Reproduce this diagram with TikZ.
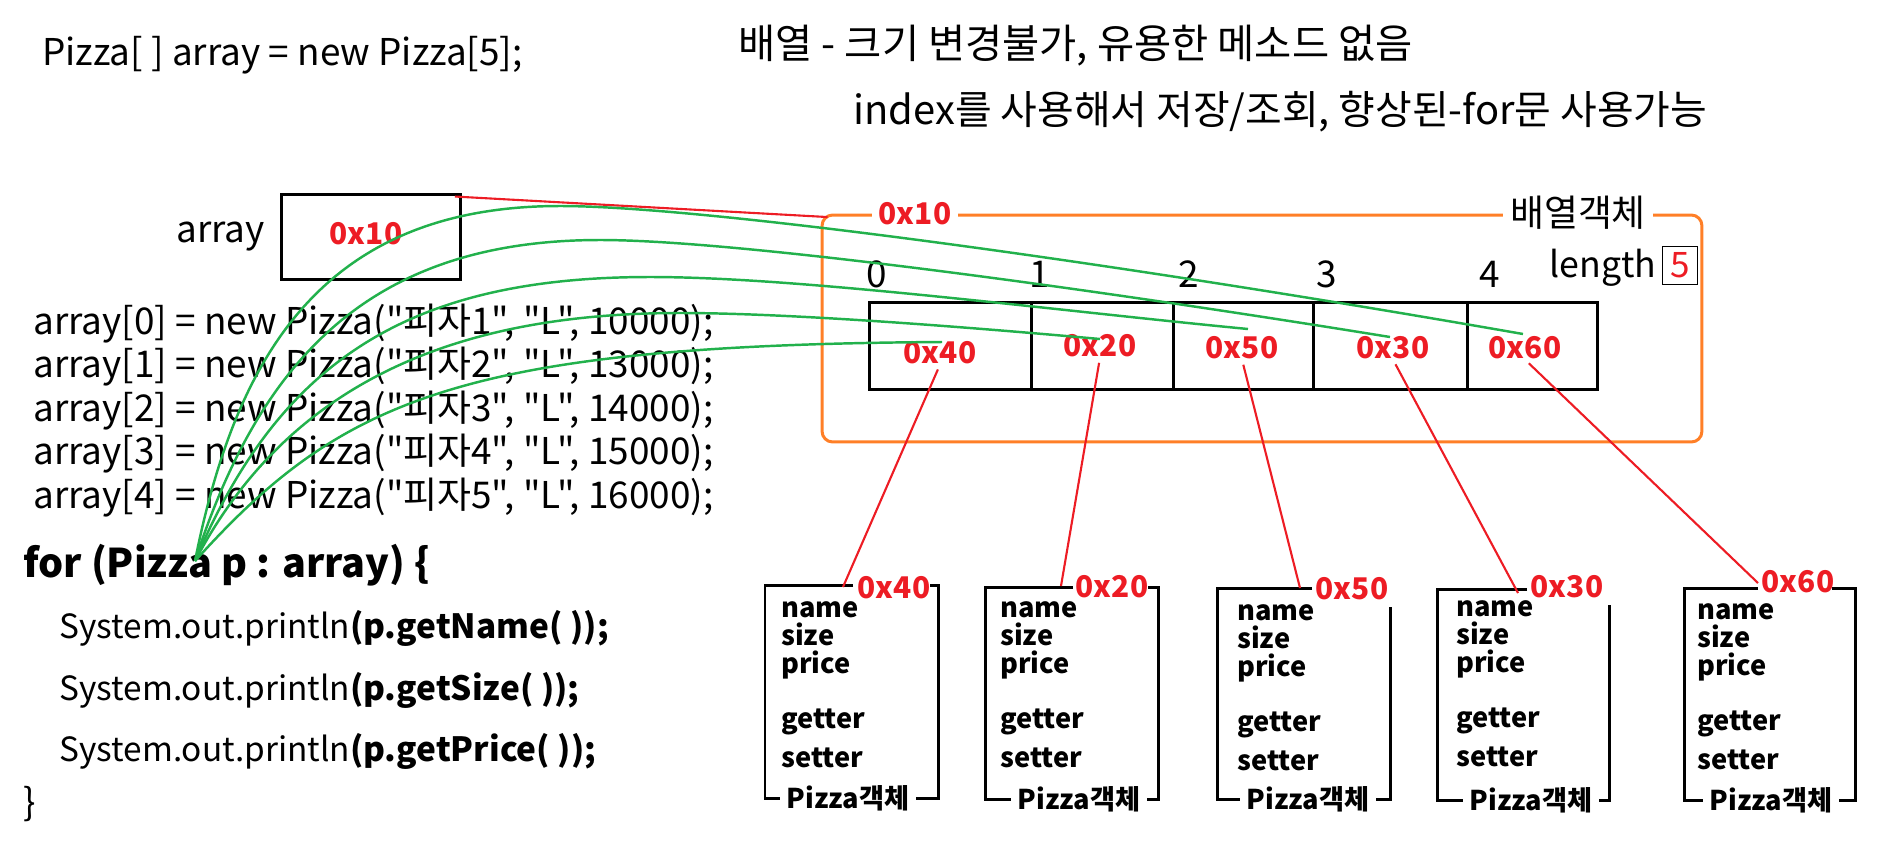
\documentclass[tikz,border=0pt]{standalone}
\usepackage{fontspec}
\setmainfont{Noto Sans CJK KR}
\newfontfamily\krfont{Noto Sans CJK KR}
\usetikzlibrary{positioning}
\definecolor{pred}{RGB}{237,28,36}
\definecolor{pgreen}{RGB}{34,177,76}
\definecolor{porange}{RGB}{255,127,39}

\begin{document}
\begin{tikzpicture}[x=0.02cm, y=-0.02cm,
    txt/.style={anchor=base west, inner sep=0pt, font=\krfont\fontsize{21}{25}\selectfont},
    addr/.style={text=pred, inner sep=0pt, font=\krfont\bfseries\fontsize{17}{20}\selectfont},
    field/.style={anchor=base west, inner sep=0pt, font=\krfont\bfseries\fontsize{15.5}{18}\selectfont},
    objline/.style={line width=1.7pt},
    ptr/.style={pred, line width=1.2pt},
    ref/.style={pgreen, line width=1.4pt}]
    \useasboundingbox (0,0) rectangle (1898,840);

    % headings
    \node[txt] (decl) at (42,65) {Pizza[ ] array = new Pizza[5];};
    \node[txt, font=\krfont\fontsize{23}{27}\selectfont] (note1) at (738,58) {배열 - 크기 변경불가, 유용한 메소드 없음};
    \node[txt, font=\krfont\fontsize{22.7}{27}\selectfont] (note2) at (853,124) {index를 사용해서 저장/조회, 향상된-for문 사용가능};

    % the variable
    \node[txt] (arrname) at (176,242) {array};
    \node[draw, objline, minimum width=3.58cm, minimum height=1.7cm] (arr) at (371,237) {};
    \node[addr] (arrval) at (366,234) {0x10};

    % code
    \node[txt] (l0) at (33,334) {array[0] = new Pizza("피자1", "L", 10000);};
    \node[txt] (l1) at (33,377) {array[1] = new Pizza("피자2", "L", 13000);};
    \node[txt] (l2) at (33,421) {array[2] = new Pizza("피자3", "L", 14000);};
    \node[txt] (l3) at (33,464) {array[3] = new Pizza("피자4", "L", 15000);};
    \node[txt] (l4) at (33,508) {array[4] = new Pizza("피자5", "L", 16000);};
    \node[txt, font=\krfont\bfseries\fontsize{22.5}{27}\selectfont] (loop) at (23,577) {for (Pizza p : array) \{};
    \node[txt, font=\krfont\fontsize{19}{23}\selectfont] (s0) at (59,638) {System.out.println\textbf{(p.getName( ));}};
    \node[txt, font=\krfont\fontsize{19}{23}\selectfont] (s1) at (59,700) {System.out.println\textbf{(p.getSize( ));}};
    \node[txt, font=\krfont\fontsize{19}{23}\selectfont] (s2) at (59,761) {System.out.println\textbf{(p.getPrice( ));}};
    \node[txt] (close) at (23,815) {\}};

    % array object
    \node[draw=porange, line width=1.7pt, rounded corners=6pt, minimum width=17.6cm, minimum height=4.54cm] (obj) at (1262,328.5) {};
    \node[addr, fill=white, inner xsep=4pt] (objaddr) at (915,214) {0x10};
    \node[fill=white, inner xsep=4pt, inner ysep=0pt, font=\krfont\fontsize{21}{25}\selectfont] (objname) at (1578,213) {배열객체};
    \node[txt, font=\krfont\fontsize{20.3}{24}\selectfont] (len) at (1549,277) {length};
    \node[draw, line width=0.5pt, text=pred, inner sep=0pt, minimum width=0.7cm, minimum height=0.76cm, font=\krfont\fontsize{20}{24}\selectfont] (lenval) at (1680,265) {5};

    \foreach \i/\x in {0/877, 1/1040, 2/1189, 3/1327, 4/1490}
        \node[txt, anchor=base] (idx\i) at (\x,287) {\i};

    \draw[objline] (869,302) rectangle (1597,389);
    \foreach \x in {1031, 1173, 1313, 1467}
        \draw[objline] (\x,302) -- (\x,389);

    \foreach \k/\x/\y/\v in {0/940/353/0x40, 1/1100/346/0x20, 2/1242/348/0x50, 3/1393/348/0x30, 4/1525/348/0x60}
        \node[addr] (c\k) at (\x,\y) {\v};

    % Pizza objects
    \draw[objline] (853,585) -- (765,585) -- (765,798) -- (938,798) -- (938,585) -- (930,585);
    \draw[objline] (1073,587) -- (985,587) -- (985,799) -- (1158,799) -- (1158,587) -- (1148,587);
    \draw[objline] (1312,588) -- (1217,588) -- (1217,799) -- (1390,799) -- (1390,607);
    \draw[objline] (1527,589) -- (1437,589) -- (1437,800) -- (1609,800) -- (1609,605);
    \draw[objline] (1758,588) -- (1684,588) -- (1684,800) -- (1855,800) -- (1855,588) -- (1832,588);

    \node[addr] (a0) at (894,588) {0x40};
    \node[addr] (a1) at (1112,587) {0x20};
    \node[addr] (a2) at (1352,589) {0x50};
    \node[addr] (a3) at (1567,587) {0x30};
    \node[addr] (a4) at (1798,582) {0x60};

    \foreach \k/\fx/\fy in {0/781/617, 1/1000/617, 2/1237/620, 3/1456/616, 4/1697/619} {
        \node[field] (name\k) at (\fx,\fy) {name};
        \node[field] (size\k) at (\fx,\fy+28) {size};
        \node[field] (price\k) at (\fx,\fy+56) {price};
        \node[field] (get\k) at (\fx,\fy+111) {getter};
        \node[field] (set\k) at (\fx,\fy+150) {setter};
    }

    \foreach \k/\x/\y in {0/848/798, 1/1079/799, 2/1308/799, 3/1531/800, 4/1771/800}
        \node[field, anchor=center, fill=white, inner xsep=4pt] (o\k) at (\x,\y) {Pizza객체};

    % references
    \coordinate (p0) at (843,587);
    \coordinate (p1) at (1061,586);
    \coordinate (p2) at (1300,588);
    \coordinate (p3) at (1518,593);
    \coordinate (p4) at (1758,583);
    \draw[ptr, shorten <=3pt] (c0.south) -- (p0);
    \draw[ptr, shorten <=3pt] (c1.south) -- (p1);
    \draw[ptr, shorten <=3pt] (c2.south) -- (p2);
    \draw[ptr, shorten <=3pt] (c3.south) -- (p3);
    \draw[ptr, shorten <=3pt] (c4.south) -- (p4);
    \draw[ptr] ([xshift=-4pt,yshift=-2pt]arr.north east) -- ([xshift=4pt,yshift=-2pt]obj.north west);

    % for-each variable
    \coordinate (pv) at (195,561);
    \coordinate (g0) at (942,342);
    \coordinate (g1) at (1100,339);
    \coordinate (g2) at (1248,329);
    \coordinate (g3) at (1390,337);
    \coordinate (g4) at (1523,334);
    \draw[ref] (pv) .. controls (235,360) and (320,206) .. (560,206) .. controls (700,206) and (1100,260) .. (g4);
    \draw[ref] (pv) .. controls (260,360) and (370,240) .. (600,240) .. controls (740,240) and (1100,290) .. (g3);
    \draw[ref] (pv) .. controls (280,360) and (410,277) .. (650,277) .. controls (800,277) and (1050,310) .. (g2);
    \draw[ref] (pv) .. controls (290,380) and (460,313) .. (680,313) .. controls (800,313) and (1000,330) .. (g1);
    \draw[ref] (pv) .. controls (340,400) and (460,345) .. (g0);
\end{tikzpicture}
\end{document}
